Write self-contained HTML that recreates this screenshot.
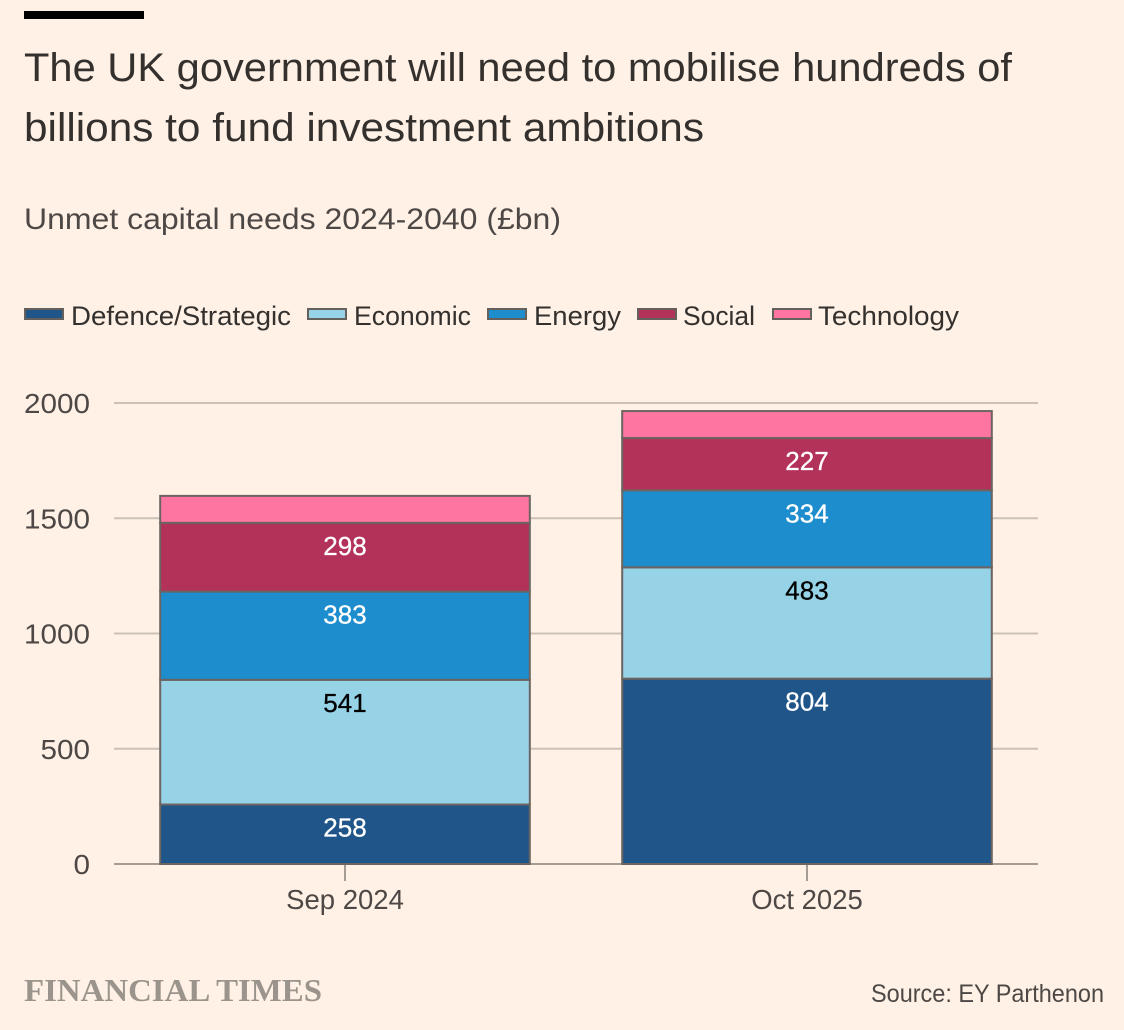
<!DOCTYPE html>
<html lang="en">
<head>
<meta charset="utf-8">
<title>Unmet capital needs 2024-2040</title>
<style>
html,body{margin:0;padding:0;background:#fff1e5;}
svg{display:block;}
text{font-family:"Liberation Sans",sans-serif;}
</style>
</head>
<body>
<svg id="chart" xmlns="http://www.w3.org/2000/svg" width="1124" height="1030" viewBox="0 0 1124 1030">
  <rect x="0" y="0" width="1124" height="1030" fill="#fff1e5"/>
  <rect x="24" y="11" width="120" height="8" fill="#000"/>
  <text x="24" y="81" font-size="40" fill="#33302e" textLength="988" lengthAdjust="spacingAndGlyphs">The UK government will need to mobilise hundreds of</text>
  <text x="24" y="141" font-size="40" fill="#33302e" textLength="680" lengthAdjust="spacingAndGlyphs">billions to fund investment ambitions</text>
  <text x="24" y="229" font-size="30" fill="#4d4845" textLength="537" lengthAdjust="spacingAndGlyphs">Unmet capital needs 2024-2040 (£bn)</text>

  <g stroke-width="2" stroke="#66605c">
    <rect x="25" y="309" width="38" height="10" fill="#205589"/>
    <rect x="308" y="309" width="38" height="10" fill="#96d3e7"/>
    <rect x="488" y="309" width="38" height="10" fill="#1e8dcd"/>
    <rect x="638" y="309" width="38" height="10" fill="#b3325a"/>
    <rect x="773" y="309" width="38" height="10" fill="#ff75a1"/>
  </g>
  <g font-size="27" fill="#33302e">
    <text x="71" y="325" textLength="220" lengthAdjust="spacingAndGlyphs">Defence/Strategic</text>
    <text x="354" y="325" textLength="117" lengthAdjust="spacingAndGlyphs">Economic</text>
    <text x="534" y="325" textLength="87" lengthAdjust="spacingAndGlyphs">Energy</text>
    <text x="683" y="325" textLength="72" lengthAdjust="spacingAndGlyphs">Social</text>
    <text x="818" y="325" textLength="141" lengthAdjust="spacingAndGlyphs">Technology</text>
  </g>

  <g id="grid"></g>
  <g id="bars"></g>
  <g id="xaxis"></g>
  <g id="yaxis"></g>

  <text x="24" y="1001" font-size="32" font-weight="bold" fill="#9b948c" style="font-family:'Liberation Serif',serif" textLength="298" lengthAdjust="spacingAndGlyphs">FINANCIAL TIMES</text>
  <text x="1104" y="1002" font-size="25" fill="#4d4845" text-anchor="end" textLength="233" lengthAdjust="spacingAndGlyphs">Source: EY Parthenon</text>
</svg>
<script>
const categories = ['Sep 2024', 'Oct 2025'];
const defence = [258, 804];
const economic = [541, 483];
const energy = [383, 334];
const social = [298, 227];
const technology = [117, 117];
const yTicks = [0, 500, 1000, 1500, 2000];

const seriesStack = [defence, economic, energy, social, technology];
const seriesFill = ['#205589', '#96d3e7', '#1e8dcd', '#b3325a', '#ff75a1'];
const seriesLabelFill = ['#ffffff', '#000000', '#ffffff', '#ffffff', null];

const SVGNS = 'http://www.w3.org/2000/svg';
const plot = { left: 114, right: 1038, top: 403, bottom: 864 };
const yMax = 2000;
const barRatio = 0.8;

function yScale(v) {
  return plot.bottom - (v / yMax) * (plot.bottom - plot.top);
}
function xStep() {
  return (plot.right - plot.left) / categories.length;
}
function xCenter(i) {
  return plot.left + xStep() * (i + 0.5);
}
function make(tag, parent, attrs) {
  const el = document.createElementNS(SVGNS, tag);
  Object.keys(attrs).forEach(function (k) { el.setAttribute(k, attrs[k]); });
  parent.appendChild(el);
  return el;
}

const gridG = document.getElementById('grid');
const barsG = document.getElementById('bars');
const xG = document.getElementById('xaxis');
const yG = document.getElementById('yaxis');

yTicks.forEach(function (t) {
  if (t !== 0) {
    const line = make('line', gridG, { x1: plot.left, x2: plot.right, y1: yScale(t), y2: yScale(t), stroke: '#ccc1b7', 'stroke-width': 2 });
    
    
  }
  const label = make('text', yG, { x: 90, y: yScale(t) + 10, 'font-size': 28, fill: '#4d4845', 'text-anchor': 'end', textLength: String(t).length * 16.5, lengthAdjust: 'spacingAndGlyphs' });
  
  
  label.textContent = String(t);
});

categories.forEach(function (cat, i) {
  const width = xStep() * barRatio;
  const x0 = xCenter(i) - width / 2;
  let cum = 0;
  seriesStack.forEach(function (series, s) {
    const v = series[i];
    const yTop = yScale(cum + v);
    const yBottom = yScale(cum);
    cum += v;
    const seg = make('rect', barsG, { x: x0, y: yTop, width: width, height: yBottom - yTop, fill: seriesFill[s], stroke: '#6b6460', 'stroke-width': 2 });
    
    
    if (seriesLabelFill[s]) {
      const val = make('text', barsG, { x: xCenter(i), y: yTop + 32, 'font-size': 26, 'text-anchor': 'middle', fill: seriesLabelFill[s], stroke: seriesLabelFill[s], 'stroke-width': 0.3 });
      
      
      val.textContent = String(v);
    }
  });
  const tick = make('line', xG, { x1: xCenter(i), x2: xCenter(i), y1: plot.bottom, y2: plot.bottom + 17, stroke: '#a59d93', 'stroke-width': 2 });
  
  
  const catLabel = make('text', xG, { x: xCenter(i), y: 909, 'font-size': 27.5, fill: '#4d4845', 'text-anchor': 'middle' });
  
  
  catLabel.textContent = cat;
});

const baseline = make('line', xG, { x1: plot.left, x2: plot.right, y1: plot.bottom, y2: plot.bottom, stroke: '#a59d93', 'stroke-width': 2 });


barsG.parentNode.insertBefore(xG, barsG);
</script>
</body>
</html>
